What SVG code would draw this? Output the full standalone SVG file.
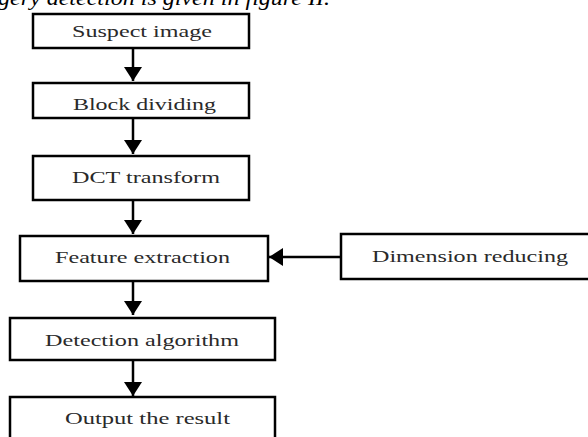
<svg xmlns="http://www.w3.org/2000/svg" width="588" height="437" viewBox="0 0 588 437">
<style>
.box{fill:#fff;stroke:#000;stroke-width:2.5}
.lbl{font-family:"Liberation Serif","Times New Roman",serif;font-size:17px;fill:#2a2a2a}
.cap{font-family:"Liberation Serif","DejaVu Serif",serif;font-size:22px;font-style:italic;fill:#000}
.edge{stroke:#000;stroke-width:2.5;fill:none}
</style>
<defs>
<marker id="ah" markerUnits="userSpaceOnUse" markerWidth="20" markerHeight="18" refX="14" refY="9" orient="auto">
<path d="M0,0 L14,9 L0,18 Z" fill="#000"/>
</marker>
</defs>
<rect width="588" height="437" fill="#fff"/>
<text class="cap" x="-2" y="5" textLength="332" lengthAdjust="spacingAndGlyphs">gery detection is given in figure II.</text>
<g id="connectors">
<line class="edge" x1="133" y1="48" x2="133" y2="81" marker-end="url(#ah)"/>
<line class="edge" x1="133" y1="118" x2="133" y2="154" marker-end="url(#ah)"/>
<line class="edge" x1="133" y1="200" x2="133" y2="234" marker-end="url(#ah)"/>
<line class="edge" x1="133" y1="281" x2="133" y2="315" marker-end="url(#ah)"/>
<line class="edge" x1="133" y1="360" x2="133" y2="396" marker-end="url(#ah)"/>
<line class="edge" x1="341" y1="257" x2="269" y2="257" marker-end="url(#ah)"/>
</g>
<g id="suspect">
<rect class="box" x="33" y="14" width="216" height="34"/>
<text class="lbl" x="72" y="37" textLength="140" lengthAdjust="spacingAndGlyphs">Suspect image</text>
</g>
<g id="block">
<rect class="box" x="33" y="83" width="216" height="35"/>
<text class="lbl" x="73" y="110" textLength="143" lengthAdjust="spacingAndGlyphs">Block dividing</text>
</g>
<g id="dct">
<rect class="box" x="33" y="156" width="216" height="44"/>
<text class="lbl" x="72" y="183" textLength="148" lengthAdjust="spacingAndGlyphs">DCT transform</text>
</g>
<g id="feature">
<rect class="box" x="20" y="236" width="248" height="45"/>
<text class="lbl" x="55" y="263" textLength="175" lengthAdjust="spacingAndGlyphs">Feature extraction</text>
</g>
<g id="dimension">
<rect class="box" x="341" y="234" width="260" height="45"/>
<text class="lbl" x="372" y="262" textLength="196" lengthAdjust="spacingAndGlyphs">Dimension reducing</text>
</g>
<g id="detection">
<rect class="box" x="10" y="318" width="265" height="42"/>
<text class="lbl" x="45" y="346" textLength="194" lengthAdjust="spacingAndGlyphs">Detection algorithm</text>
</g>
<g id="output">
<rect class="box" x="10" y="397" width="265" height="60"/>
<text class="lbl" x="65" y="424" textLength="165" lengthAdjust="spacingAndGlyphs">Output the result</text>
</g>
</svg>
